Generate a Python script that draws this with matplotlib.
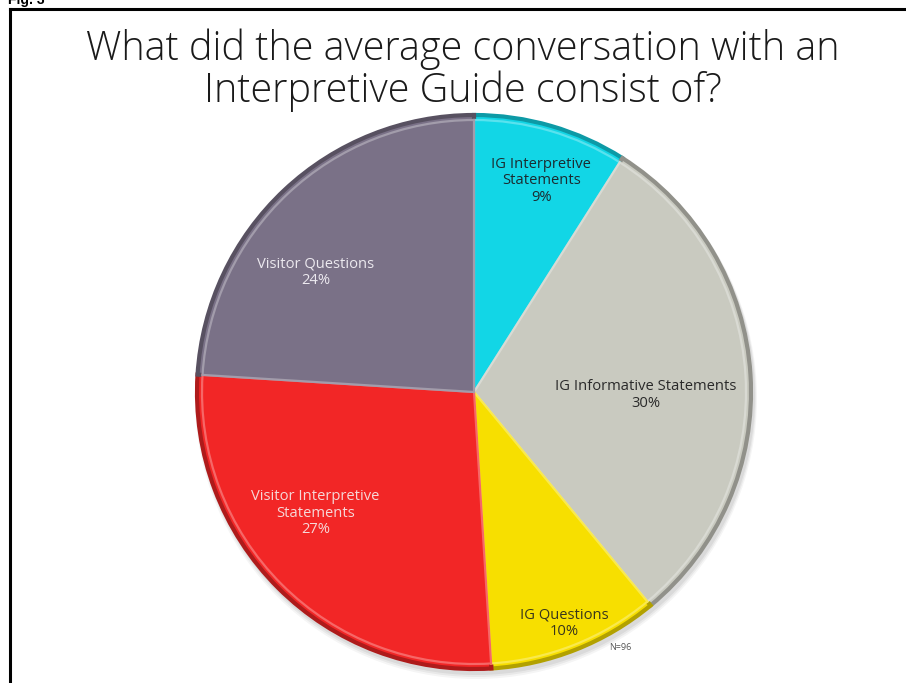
import matplotlib
matplotlib.use("Agg")
import matplotlib.pyplot as plt
from matplotlib.lines import Line2D
from matplotlib.patches import Circle
from matplotlib.colors import to_rgb
import numpy as np

# Share of an average conversation, clockwise from 12 o'clock
categories = [
    "IG Interpretive\nStatements",
    "IG Informative Statements",
    "IG Questions",
    "Visitor Interpretive\nStatements",
    "Visitor Questions",
]
shares = [9, 30, 10, 27, 24]
sample_note = "N=96"

colors = ["#12d6e6", "#c9cac0", "#f7df00", "#f22626", "#7a7187"]
text_colors = ["#1c2b30", "#2a2a2a", "#38361c", "#f6d8d8", "#ece9ef"]
# label placement: (radius as fraction of pie radius, angle nudge in degrees)
label_place = [(0.80, -1.5), (0.62, -4.5), (0.895, -0.3), (0.72, -7.6), (0.716, 9.6)]

W, H = 906, 683
fig = plt.figure(figsize=(W / 100, H / 100), dpi=100)
ax = fig.add_axes([0, 0, 1, 1])

cx, cy, R = 474, H - 392, 277


def shade(c, f):
    r, g, b = to_rgb(c)
    return (r * f, g * f, b * f)


def tint(c, f):
    r, g, b = to_rgb(c)
    return (r + (1 - r) * f, g + (1 - g) * f, b + (1 - b) * f)


# soft shadow beneath the pie
for i, a in enumerate([0.06, 0.05, 0.04]):
    ax.add_patch(Circle((cx + 2, cy - 4 - i), R + 2 + i, color="black", alpha=a, lw=0, zorder=1))

wedges, _ = ax.pie(shares, colors=colors, startangle=90, counterclock=False,
                   center=(cx, cy), radius=R, frame=True,
                   wedgeprops=dict(linewidth=3.0, zorder=2))
for w, c in zip(wedges, colors):
    w.set_edgecolor(shade(c, 0.72))

# inner highlight for a bevelled look
inner, _ = ax.pie(shares, colors=colors, startangle=90, counterclock=False,
                  center=(cx, cy), radius=R - 5, frame=True,
                  wedgeprops=dict(linewidth=1.6, zorder=3))
for w, c in zip(inner, colors):
    w.set_edgecolor(tint(c, 0.3))
    w.set_zorder(3)

ax.set_xlim(0, W)
ax.set_ylim(0, H)
ax.set_aspect("equal")
ax.axis("off")

# slice labels
total = sum(shares)
start = 90.0
for name, v, tc, (rf, nudge) in zip(categories, shares, text_colors, label_place):
    span = 360.0 * v / total
    mid = np.deg2rad(start - span / 2 + nudge)
    start -= span
    x = cx + rf * R * np.cos(mid)
    y = cy + rf * R * np.sin(mid)
    ax.text(x, y, f"{name}\n{v}%", ha="center", va="center", color=tc,
            fontsize=10.6, family="Open Sans", linespacing=1.15, zorder=5)

ax.text(620, H - 648, sample_note, ha="center", va="center", fontsize=6.5,
        color="#555555", family="Open Sans", zorder=5)

# title
ax.text(463, H - 70, "What did the average conversation with an\nInterpretive Guide consist of?",
        ha="center", va="center", fontsize=28.5, color="#1a1a1a", family="Open Sans",
        fontweight="light", linespacing=1.02, zorder=5)

# frame and figure tag
fig.add_artist(Line2D([10 / W, 1], [1 - 9 / H, 1 - 9 / H], color="black", lw=2.2))
fig.add_artist(Line2D([10 / W, 10 / W], [0, 1 - 9 / H], color="black", lw=2.2))
fig.text(8 / W, 1 - 4 / H, "Fig. 3", fontsize=10, fontweight="bold",
         family="Liberation Sans", va="baseline", ha="left")

fig.savefig("out.png", dpi=100)
